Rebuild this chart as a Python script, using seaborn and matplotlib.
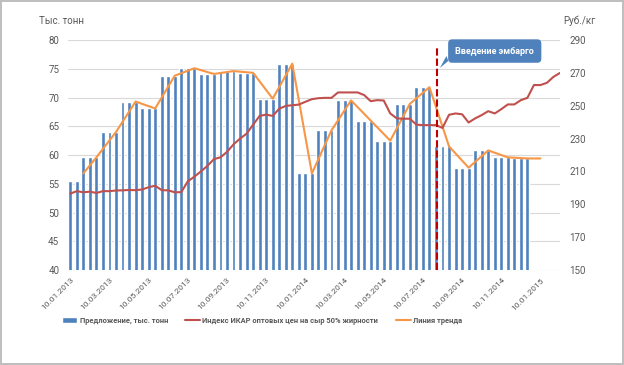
import numpy as np
import pandas as pd
import seaborn as sns
import matplotlib.pyplot as plt
from matplotlib.patches import Patch, Polygon
from matplotlib.lines import Line2D

# supply, thousand tonnes: one value per month, shown once per dekad
supply_month = [55.4, 59.6, 64.0, 69.3, 68.1, 73.8, 75.1, 74.1, 74.6, 74.3, 69.8, 75.9,
                56.8, 64.3, 69.5, 66.0, 62.5, 68.9, 71.8, 61.5, 57.8, 60.8, 59.6, 59.4]
supply_repeat = [2] + [3] * 23

# IKAR wholesale cheese price index, rub/kg (one point per dekad)
price = [196.5, 198.0, 197.3, 197.7, 196.9, 198.0, 198.0, 198.4, 198.5, 198.7,
         198.6, 199.0, 200.4, 201.3, 198.6, 198.5, 197.3, 197.4, 204.0, 206.8,
         210.0, 213.4, 217.5, 218.6, 221.9, 226.5, 230.0, 233.0, 238.5, 243.8,
         244.6, 243.8, 248.2, 249.9, 250.3, 250.7, 252.4, 254.0, 254.6, 254.8,
         254.8, 258.1, 258.1, 258.1, 258.1, 256.5, 252.8, 253.4, 253.2, 245.3,
         242.3, 242.1, 242.1, 238.5, 238.2, 238.2, 238.2, 236.5, 244.5, 245.3,
         244.8, 239.8, 242.3, 244.3, 246.7, 245.3, 247.9, 250.8, 250.8, 253.4,
         254.8, 262.6, 262.6, 264.0, 267.6, 270.0]

# trend line (moving average) break points: dekad number, value
trend_pos = [2, 4, 7, 10, 13, 16, 19, 22, 25, 28, 31, 34, 37, 40, 43, 46, 49, 52,
             55, 58, 61, 64, 67, 70, 72]
trend_val = [56.8, 59.6, 64.0, 69.3, 68.1, 73.8, 75.1, 74.1, 74.6, 74.3, 69.8, 75.9,
             56.8, 64.3, 69.5, 66.0, 62.5, 68.9, 71.8, 61.5, 57.8, 60.8, 59.6, 59.4, 59.4]

tick_labels = ["10.01.2013", "10.03.2013", "10.05.2013", "10.07.2013", "10.09.2013",
               "10.11.2013", "10.01.2014", "10.03.2014", "10.05.2014", "10.07.2014",
               "10.09.2014", "10.11.2014", "10.01.2015"]
embargo_pos = 56.1

blue = "#4F81BD"
red = "#C0504D"
orange = "#F79646"
grey = "#595959"

sns.set_style("white")
plt.rcParams["font.family"] = ["Roboto", "DejaVu Sans"]

supply = np.repeat(supply_month, supply_repeat)
df_bars = pd.DataFrame({"pos": np.arange(len(supply)), "supply": supply})
df_price = pd.DataFrame({"pos": np.arange(len(price)), "price": price})
df_trend = pd.DataFrame({"pos": trend_pos, "trend": trend_val})

fig = plt.figure(figsize=(6.24, 3.65), dpi=100)
ax = fig.add_axes([0.1095, 0.2603, 0.788, 0.630])
sns.barplot(data=df_bars, x="pos", y="supply", color=blue, width=0.6,
            saturation=1, native_scale=True, ax=ax)
sns.lineplot(data=df_trend, x="pos", y="trend", color=orange, lw=1.5, ax=ax)

ax2 = ax.twinx()
sns.lineplot(data=df_price, x="pos", y="price", color=red, lw=1.5, ax=ax2)

ax.set_xlim(-0.3, 75)
ax.set_ylim(40, 80)
ax.set_yticks(np.arange(40, 81, 5))
ax2.set_ylim(150, 290)
ax2.set_yticks(np.arange(150, 291, 20))
ax.set_xticks(np.arange(0, 73, 6))
ax.set_xticklabels(tick_labels, rotation=45, ha="right", rotation_mode="anchor")
for a in (ax, ax2):
    a.set_xlabel("")
    a.set_ylabel("")
    for s in a.spines.values():
        s.set_visible(False)
ax.grid(axis="y", color="#D9D9D9", lw=0.8)
ax.set_axisbelow(True)
ax2.grid(False)
ax.tick_params(axis="y", length=0, labelsize=7, labelcolor=grey, pad=6.5)
ax.tick_params(axis="x", length=0, labelsize=6, labelcolor=grey, pad=5)
ax2.tick_params(axis="y", length=0, labelsize=7, labelcolor=grey, pad=6.5)

# embargo marker and callout
ax2.vlines(embargo_pos, 150, 285.1, colors="#C00000", linestyles=(0, (3.5, 1.4)),
           lw=1.5, zorder=5)
ax2.annotate("Введение эмбарго", xy=(65.0, 283.3), ha="center", va="center",
             color="white", fontsize=6.5, fontweight="bold",
             bbox=dict(boxstyle="round,pad=0.8,rounding_size=0.45", fc=blue, ec="none"),
             annotation_clip=False, zorder=10)
ax2.add_patch(Polygon([(57.6, 280.3), (57.9, 277.3), (56.6, 273.0)], closed=True,
                      fc=blue, ec="none", clip_on=False, zorder=10))

fig.text(39 / 624, 1 - 20.7 / 365, "Тыс. тонн", fontsize=7, color=grey, va="center")
fig.text(563 / 624, 1 - 20.7 / 365, "Руб./кг", fontsize=7, color=grey, va="center")

handles = [Patch(fc=blue), Line2D([], [], color=red, lw=1.5),
           Line2D([], [], color=orange, lw=1.5)]
labels = ["Предложение, тыс. тонн", "Индекс ИКАР оптовых цен на сыр 50% жирности",
          "Линия тренда"]
fig.legend(handles, labels, loc="center", bbox_to_anchor=(0.42, 0.121), ncol=3,
           frameon=False, prop=dict(size=5.4, weight="bold"),
           labelcolor=grey, handlelength=2.0, handleheight=0.9, handletextpad=0.3,
           columnspacing=2.3)

fig.patch.set_edgecolor("#BFBFBF")
fig.patch.set_linewidth(1.5)
fig.savefig("out.png", dpi=100)
